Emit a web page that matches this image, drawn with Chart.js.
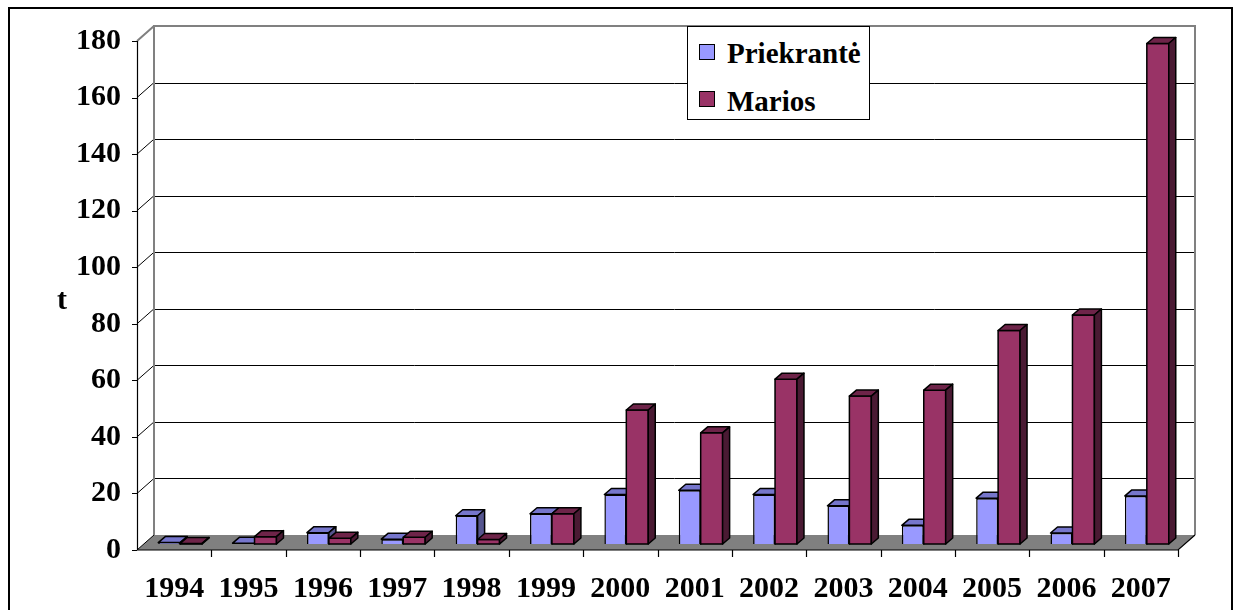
<!DOCTYPE html>
<html>
<head>
<meta charset="utf-8">
<script src="https://cdn.jsdelivr.net/npm/chart.js@4"></script>
<style>
  html, body { margin: 0; padding: 0; background: #ffffff; }
  #wrap { position: relative; width: 1236px; height: 610px; overflow: hidden; }
  canvas { position: absolute; left: 0; top: 0; }
  .txt { position: absolute; font-family: 'Liberation Serif', 'Times New Roman', serif; font-weight: bold; font-size: 29px; color: #000; line-height: 1; white-space: nowrap; }
  #legend { position: absolute; left: 687px; top: 26px; width: 181px; height: 92px; border: 1px solid #000; background: #fff; }
  .sw { position: absolute; width: 14px; height: 14px; border: 1px solid #000; }
</style>
</head>
<body>
<div id="wrap">
  <canvas id="c" width="1236" height="610"></canvas>
  <div class="txt" id="ytitle" style="left:57px; top:284px; font-size:30px;">t</div>
  <div id="legend">
    <div class="sw" style="left:11px; top:17px; background:#9999FF;"></div>
    <div class="txt" style="left:39px; top:12px;" id="lg0"></div>
    <div class="sw" style="left:11px; top:64px; background:#993366;"></div>
    <div class="txt" style="left:39px; top:60px;" id="lg1"></div>
  </div>
</div>
<script>
const categories = ['1994','1995','1996','1997','1998','1999','2000','2001','2002','2003','2004','2005','2006','2007'];
const seriesNames = ['Priekrantė', 'Marios'];
const priekrante = [0.5, 0.3, 4.0, 1.7, 10.0, 10.7, 17.5, 19.0, 17.5, 13.5, 6.6, 16.2, 3.9, 17.0];
const marios     = [0.2, 2.6, 2.0, 2.4, 1.6, 10.7, 47.4, 39.3, 58.3, 52.3, 54.4, 75.5, 81.0, 177.0];
const yMin = 0, yMax = 180, yStep = 20;
const yAxisTitle = 't';

const frontColors = ['#9999FF', '#993366'];
const topColors   = ['#7676CC', '#6E2449'];
const sideColors  = ['#55558F', '#4A1A33'];

document.getElementById('lg0').textContent = seriesNames[0];
document.getElementById('lg1').textContent = seriesNames[1];
document.getElementById('ytitle').textContent = yAxisTitle;

const FONT = "'Liberation Serif', 'Times New Roman', serif";
const FR = {dx: -6, dy: 6};   // front plane relative to bar plane
const BK = {dx: 11, dy: -9};  // back wall relative to bar plane
const DEPTH = {dx: 7, dy: -6};

function drawBox(ctx, L, R, T, Bs, i, front) {
  ctx.lineWidth = 1.5;
  ctx.strokeStyle = '#000';
  ctx.lineJoin = 'round';
  if (front) {
    ctx.fillStyle = frontColors[i];
    ctx.beginPath(); ctx.rect(L, T, R - L, Bs - T); ctx.fill(); ctx.stroke();
  }
  ctx.fillStyle = topColors[i];
  ctx.beginPath();
  ctx.moveTo(L, T); ctx.lineTo(R, T); ctx.lineTo(R + DEPTH.dx, T + DEPTH.dy); ctx.lineTo(L + DEPTH.dx, T + DEPTH.dy); ctx.closePath();
  ctx.fill(); ctx.stroke();
  ctx.fillStyle = sideColors[i];
  ctx.beginPath();
  ctx.moveTo(R, T); ctx.lineTo(R + DEPTH.dx, T + DEPTH.dy); ctx.lineTo(R + DEPTH.dx, Bs + DEPTH.dy); ctx.lineTo(R, Bs); ctx.closePath();
  ctx.fill(); ctx.stroke();
}

const threeD = {
  id: 'threeD',
  beforeDatasetsDraw(chart) {
    const {ctx, chartArea: ca, scales: {x, y}} = chart;
    const L = ca.left, R = ca.right;
    const y0 = y.getPixelForValue(0), yT = y.getPixelForValue(yMax);
    ctx.save();
    ctx.fillStyle = '#808080';
    ctx.beginPath();
    ctx.moveTo(L + FR.dx, y0 + FR.dy); ctx.lineTo(R + FR.dx, y0 + FR.dy);
    ctx.lineTo(R + BK.dx, y0 + BK.dy); ctx.lineTo(L + BK.dx, y0 + BK.dy);
    ctx.closePath(); ctx.fill();
    y.ticks.forEach(t => {
      const py = y.getPixelForValue(t.value);
      ctx.strokeStyle = '#000'; ctx.lineWidth = 1;
      if (t.value !== 0) {
        ctx.beginPath(); ctx.moveTo(L + BK.dx, Math.round(py + BK.dy) + 0.5); ctx.lineTo(R + BK.dx, Math.round(py + BK.dy) + 0.5); ctx.stroke();
      }
      ctx.beginPath(); ctx.moveTo(L + FR.dx, py + FR.dy); ctx.lineTo(L + BK.dx, py + BK.dy); ctx.stroke();
      ctx.beginPath(); ctx.moveTo(L + FR.dx - 5, Math.round(py + FR.dy) + 0.5); ctx.lineTo(L + FR.dx, Math.round(py + FR.dy) + 0.5); ctx.stroke();
    });
    ctx.strokeStyle = '#808080'; ctx.lineWidth = 2;
    ctx.beginPath();
    ctx.moveTo(L + BK.dx, y0 + BK.dy); ctx.lineTo(L + BK.dx, yT + BK.dy);
    ctx.lineTo(R + BK.dx, yT + BK.dy); ctx.lineTo(R + BK.dx, y0 + BK.dy);
    ctx.stroke();
    ctx.beginPath(); ctx.moveTo(L + FR.dx, yT + FR.dy); ctx.lineTo(L + BK.dx, yT + BK.dy); ctx.stroke();
    ctx.strokeStyle = '#000'; ctx.lineWidth = 1.2;
    ctx.beginPath();
    ctx.moveTo(L + FR.dx + 0.5, yT + FR.dy); ctx.lineTo(L + FR.dx + 0.5, y0 + FR.dy);
    ctx.lineTo(R + FR.dx, y0 + FR.dy); ctx.lineTo(R + BK.dx, y0 + BK.dy);
    ctx.stroke();
    const n = categories.length;
    for (let i = 1; i <= n; i++) {
      const px = Math.round(L + FR.dx + i * (R - L) / n) + 0.5;
      ctx.beginPath(); ctx.moveTo(px, y0 + FR.dy); ctx.lineTo(px, y0 + FR.dy + 7); ctx.stroke();
    }
    ctx.restore();
  },
  afterDatasetsDraw(chart) {
    const {ctx} = chart;
    const m0 = chart.getDatasetMeta(0), m1 = chart.getDatasetMeta(1);
    ctx.save();
    for (let k = 0; k < categories.length; k++) {
      [m0, m1].forEach((m, i) => {
        const el = m.data[k];
        const p = el.getProps(['x', 'y', 'base', 'width'], true);
        drawBox(ctx, p.x - p.width / 2, p.x + p.width / 2, p.y, p.base, i, i === 1);
      });
    }
    ctx.restore();
  },
  afterDraw(chart) {
    const {ctx} = chart;
    ctx.save();
    ctx.strokeStyle = '#000'; ctx.lineWidth = 2;
    ctx.strokeRect(9, 8, 1223, 640);
    ctx.restore();
  }
};

new Chart(document.getElementById('c'), {
  type: 'bar',
  data: {
    labels: categories,
    datasets: [
      { label: seriesNames[0], data: priekrante, backgroundColor: frontColors[0], borderColor: '#000', borderWidth: 1.5 },
      { label: seriesNames[1], data: marios, backgroundColor: frontColors[1], borderColor: '#000', borderWidth: 1.5 }
    ]
  },
  options: {
    responsive: false,
    animation: false,
    devicePixelRatio: 1,
    datasets: { bar: { categoryPercentage: 0.59, barPercentage: 1.0 } },
    layout: { padding: { left: 0, right: 52, top: 35, bottom: 0 } },
    plugins: { legend: { display: false }, tooltip: { enabled: false } },
    scales: {
      x: {
        grid: { display: false },
        border: { display: false },
        ticks: { color: '#000', font: { family: FONT, size: 30, weight: 'bold' }, padding: 19, labelOffset: -6, maxRotation: 0, autoSkip: false },
        afterFit(s) { s.height = 66; }
      },
      y: {
        min: yMin, max: yMax,
        grid: { display: false },
        border: { display: false },
        ticks: { stepSize: yStep, color: '#000', font: { family: FONT, size: 30, weight: 'bold' }, padding: 14, labelOffset: 6 },
        afterFit(s) { s.width = 143; }
      }
    }
  },
  plugins: [threeD]
});
</script>
</body>
</html>
